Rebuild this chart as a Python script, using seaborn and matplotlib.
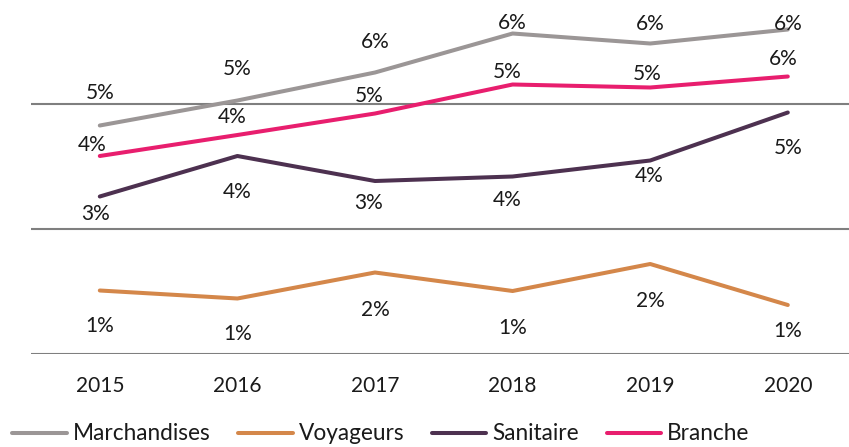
import pandas as pd
import matplotlib
matplotlib.use("Agg")
import matplotlib.pyplot as plt
import seaborn as sns

# data (percent)
years = [2015, 2016, 2017, 2018, 2019, 2020]
series_names = ["Marchandises", "Voyageurs", "Sanitaire", "Branche"]
marchandises = [4.57, 5.07, 5.63, 6.41, 6.21, 6.49]
voyageurs = [1.27, 1.11, 1.63, 1.26, 1.80, 0.98]
sanitaire = [3.15, 3.96, 3.46, 3.55, 3.87, 4.83]
branche = [3.96, 4.38, 4.81, 5.39, 5.33, 5.55]

colors = {"Marchandises": "#9B9696", "Voyageurs": "#D4874A",
          "Sanitaire": "#4D3150", "Branche": "#E81E6E"}

# label offsets in pixels (dx, dy), dy positive = downwards
label_dx = {"Marchandises": [0, 0, 0, 0, 0, 0],
            "Voyageurs": [0, 0, 0, 0, 0, 0],
            "Sanitaire": [-4, 0, -6, -5, -1, 0],
            "Branche": [-8, -5, -6, -5, -3, -5]}
label_dy = {"Marchandises": [-32, -31, -30, -10, -19, -5],
            "Voyageurs": [35, 35, 37, 37, 37, 26],
            "Sanitaire": [18, 36, 22, 23, 16, 36],
            "Branche": [-11, -18, -17, -13, -13, -17]}

values = {"Marchandises": marchandises, "Voyageurs": voyageurs,
          "Sanitaire": sanitaire, "Branche": branche}

rows = []
for name in series_names:
    for y, v in zip(years, values[name]):
        rows.append({"Année": y, "Taux": v, "Série": name})
df = pd.DataFrame(rows)

sns.set_style("white")
plt.rcParams['font.family'] = ['Lato', 'DejaVu Sans']

W, H = 849, 447
fig = plt.figure(figsize=(W / 100, H / 100), dpi=100)
ax = fig.add_axes([31 / W, (H - 354) / H, 1 - 31 / W, 350 / H])

# gridlines first so lines sit on top
for g in [0, 2.5, 5]:
    ax.axhline(g, color="#7F7F7F", lw=1.5, zorder=1)

sns.lineplot(data=df, x="Année", y="Taux", hue="Série", hue_order=series_names,
             palette=colors, linewidth=2.9, sort=False, ax=ax, zorder=3)

for name in series_names:
    for i, (y, v) in enumerate(zip(years, values[name])):
        ax.annotate(f"{round(v):.0f}%", (y, v),
                    xytext=(label_dx[name][i] * 0.72, -label_dy[name][i] * 0.72),
                    textcoords="offset points", ha="center", va="center",
                    fontsize=15, color="#1a1a1a", zorder=4)

ax.set_xlim(2014.5, 2014.5 + 818 / 137.6)
ax.set_ylim(0, 7)
ax.set_xticks(years)
ax.set_xticklabels([str(y) for y in years], fontsize=15, color="#1a1a1a")
ax.set_yticks([])
ax.tick_params(axis="x", length=0, pad=16)
ax.set_xlabel("")
ax.set_ylabel("")
for s in ax.spines.values():
    s.set_visible(False)

handles, labels = ax.get_legend_handles_labels()
ax.legend(handles, labels, loc="center", bbox_to_anchor=(381 / W, 1 - 434 / H),
          bbox_transform=fig.transFigure, ncol=4, frameon=False, fontsize=16.3,
          handlelength=2.4, handletextpad=0.27, columnspacing=1.22,
          labelcolor="#1a1a1a")

fig.savefig("out.png", dpi=100)
